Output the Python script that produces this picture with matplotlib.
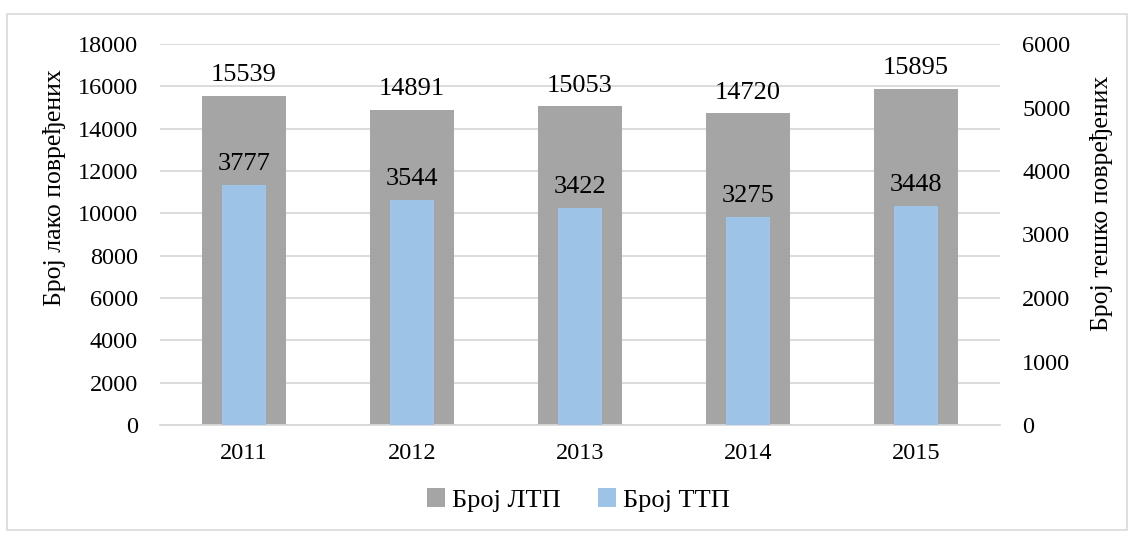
import matplotlib
matplotlib.use("Agg")
import matplotlib.pyplot as plt
from matplotlib.patches import Rectangle

# data
years = ["2011", "2012", "2013", "2014", "2015"]
ltp = [15539, 14891, 15053, 14720, 15895]
ttp = [3777, 3544, 3422, 3275, 3448]

plt.rcParams['font.family'] = ['Liberation Serif', 'DejaVu Serif']

fig = plt.figure(figsize=(11.34, 5.36), dpi=100)
fig.patches.append(Rectangle((7 / 1134, 6 / 536), 1120 / 1134, 516 / 536,
                             transform=fig.transFigure, fill=False,
                             edgecolor='#D9D9D9', lw=1.2))

ax = fig.add_axes([160 / 1134, 1 - 425 / 536, 840 / 1134, 381 / 536])
ax2 = ax.twinx()

x = list(range(len(years)))
b1 = ax.bar(x, ltp, width=0.5, color='#A5A5A5', zorder=2, label='Број ЛТП')
b2 = ax2.bar(x, ttp, width=0.265, color='#9DC3E6', zorder=2, label='Број ТТП')

ax.set_ylim(0, 18000)
ax.set_yticks(range(0, 18001, 2000))
ax2.set_ylim(0, 6000)
ax2.set_yticks(range(0, 6001, 1000))
ax.set_xlim(-0.5, 4.5)
ax.set_xticks(x)
ax.set_xticklabels(years)

ax.grid(axis='y', color='#D9D9D9', lw=1.3, zorder=0)
ax.set_axisbelow(True)
for a in (ax, ax2):
    for s in a.spines.values():
        s.set_visible(False)
    a.tick_params(length=0, labelsize=17.5)
ax.spines['bottom'].set_visible(True)
ax.spines['bottom'].set_color('#D9D9D9')
ax.spines['bottom'].set_linewidth(1.3)
ax.tick_params(axis='y', pad=16)
ax.tick_params(axis='x', pad=13)
ax2.tick_params(axis='y', pad=16)

ax.set_ylabel('Број лако повређених', fontsize=18.5)
ax2.set_ylabel('Број тешко повређених', fontsize=18.5)
ax.yaxis.set_label_coords(-0.112, 0.622)
ax2.yaxis.set_label_coords(1.107, 0.583)

for xi, v in zip(x, ltp):
    ax.annotate(str(v), (xi, v), xytext=(0, 7), textcoords='offset points',
                ha='center', va='bottom', fontsize=19)
for xi, v in zip(x, ttp):
    ax2.annotate(str(v), (xi, v), xytext=(0, 7), textcoords='offset points',
                 ha='center', va='bottom', fontsize=19)

fig.legend(handles=[b1, b2], loc='center', bbox_to_anchor=(0.51, 1 - 500 / 536),
           ncol=2, frameon=False, fontsize=19, handlelength=0.7, handleheight=0.7,
           handletextpad=0.25, columnspacing=1.4)

fig.savefig('out.png', dpi=100)
